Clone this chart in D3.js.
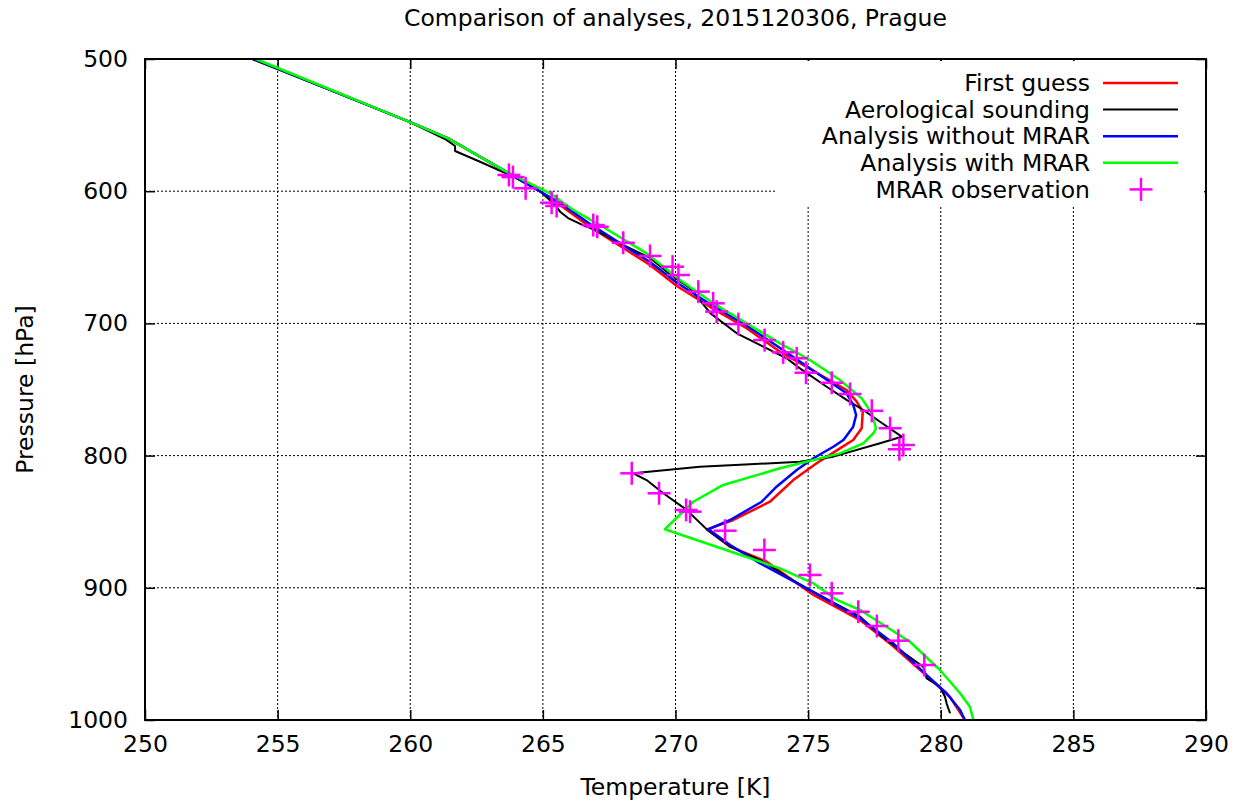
<!DOCTYPE html>
<html>
<head>
<meta charset="utf-8">
<script src="https://cdn.jsdelivr.net/npm/d3@7"></script>
<style>
  body { margin: 0; background: #fff; }
  text { font-family: "DejaVu Sans", sans-serif; fill: #000; }
</style>
</head>
<body>
<svg id="chart"></svg>
<script>
// ---- data (temperature K, pressure hPa) ----
const tempTicks = [250, 255, 260, 265, 270, 275, 280, 285, 290];
const pressureTicks = [500, 600, 700, 800, 900, 1000];

const firstGuess = [
  [254.11, 500], [259.95, 547.4], [261.43, 560], [263.51, 584], [264.93, 600.6],
  [265.65, 610.4], [266.78, 627.1], [268.03, 643], [269.04, 655.8], [270.05, 671.7],
  [271.43, 689.1], [272.68, 703.7], [273.94, 721.4], [276.45, 750.4], [276.83, 759.2],
  [277.06, 766.8], [277.02, 779.3], [276.7, 788.2], [276.2, 794.5], [275.32, 805.8],
  [274.44, 818.5], [273.56, 834.9], [272.18, 848.7], [271.18, 855.8], [272.06, 868.9],
  [273.44, 880.3], [275.2, 905.4], [276.96, 924.4], [278.2, 944.1], [279.48, 966.8],
  [280.35, 982.6], [280.91, 1000]
];

const sounding = [
  [254.03, 500], [254.94, 507.3], [259.95, 547.4], [261.31, 560.5], [261.69, 565.8],
  [261.69, 569.6], [262.63, 577.7], [263.84, 588.5], [264.93, 600.6], [265.46, 610.4],
  [265.65, 615.5], [265.95, 620.3], [266.51, 625.6], [266.96, 629.3], [268.02, 640.7],
  [269.04, 650.5], [269.87, 664.1], [270.55, 673.4], [271.32, 692.4], [272.31, 707.5],
  [273.31, 717.6], [274.19, 726.4], [274.69, 734], [275.7, 747.9], [276.45, 757.9],
  [277.08, 765.5], [277.71, 774.4], [278.53, 785.7], [277.71, 790.7], [275.95, 800.8],
  [274.69, 804.6], [272.81, 806.6], [270.92, 808.4], [268.41, 813.4], [268.91, 818.5],
  [269.54, 828.5], [270.42, 841.1], [271.18, 855.8], [272.06, 868.9], [273.31, 880.3],
  [274.19, 891.6], [275.07, 901.7], [276.96, 921.9], [277.71, 935.7], [278.46, 947.1],
  [279.34, 959.7], [279.47, 968.5], [279.97, 974.8], [280.16, 982.4], [280.22, 987.4],
  [280.35, 994.9]
];

const analysisNoMrar = [
  [254.11, 500], [259.95, 547.4], [261.43, 560], [263.51, 584], [264.93, 600.6],
  [265.65, 609], [266.78, 624.8], [268.02, 640.7], [269.04, 653.6], [270.07, 669.4],
  [271.41, 686.8], [272.7, 702], [273.94, 718.6], [276.45, 752.9], [276.7, 761.7],
  [276.81, 769.3], [276.7, 778.1], [276.33, 788.2], [275.95, 793.3], [275.2, 802],
  [274.57, 810.9], [273.81, 823.5], [273.25, 834.9], [272.06, 848.7], [271.24, 855.8],
  [272.06, 867.6], [273.19, 881.5], [275.07, 901.7], [276.96, 923.1], [278.21, 942],
  [279.47, 966], [280.22, 979.8], [280.73, 992.4], [280.91, 1000]
];

const analysisMrar = [
  [254.18, 500], [259.95, 547.4], [261.43, 560], [263.51, 584], [265.27, 601.6],
  [266.15, 614.2], [267.15, 625.6], [268.91, 647], [270.17, 667.2], [271.43, 684.8],
  [272.68, 699.9], [273.94, 715.1], [275.07, 727.7], [276.2, 742.8], [277.02, 756.7],
  [277.4, 768], [277.56, 779.4], [277.46, 783.1], [277.08, 790.7], [276.2, 798.3],
  [275.2, 803.3], [273.94, 809.6], [271.8, 822.2], [270.67, 834.9], [269.6, 855.7],
  [273.94, 885.3], [275.2, 896.6], [276.08, 909.2], [276.96, 916.8], [278.84, 940.8],
  [279.97, 962.2], [280.73, 979.8], [281.1, 989.9], [281.23, 1000]
];

const mrarObs = [
  [263.72, 587.7], [263.87, 589.3], [264.35, 597.8], [265.33, 608.7], [265.52, 611.2],
  [266.9, 625.6], [267.05, 626.9], [268.03, 639], [269.04, 649], [269.89, 657.1],
  [270.11, 663.4], [270.86, 676], [271.42, 684.8], [271.55, 691.1], [272.37, 700.5],
  [273.36, 712.6], [274.06, 721.9], [274.57, 726.4], [274.92, 737.3], [275.89, 744.9],
  [276.58, 753.4], [277.4, 766.1], [278.09, 779.3], [278.44, 795.2], [278.59, 792],
  [268.35, 813.4], [269.38, 828.5], [270.4, 841.1], [270.55, 842.4], [271.87, 856.8],
  [273.35, 871.4], [275.07, 890.3], [275.89, 904.2], [276.89, 918.1], [277.59, 928.9],
  [278.4, 940], [279.38, 958.4]
];

const seriesNames = ["First guess", "Aerological sounding", "Analysis without MRAR", "Analysis with MRAR", "MRAR observation"];
const seriesColors = ["#ff0000", "#000000", "#0000ff", "#00ff00", "#ff00ff"];

// ---- layout ----
const W = 1237, H = 801;
const margin = { top: 59, right: 31, bottom: 81, left: 145 };
const width = W - margin.left - margin.right;
const height = H - margin.top - margin.bottom;
const fs = "23.5px";

const svg = d3.select("#chart").attr("width", W).attr("height", H);
const g = svg.append("g").attr("transform", "translate(" + margin.left + "," + margin.top + ")");

const x = d3.scaleLinear().domain([250, 290]).range([0, width]);
const y = d3.scaleLinear().domain([500, 1000]).range([0, height]);

// grid
g.append("g").selectAll("line").data(tempTicks.slice(1, -1)).join("line")
  .attr("x1", d => x(d)).attr("x2", d => x(d)).attr("y1", 0).attr("y2", height)
  .attr("stroke", "#000").attr("stroke-width", 1).attr("stroke-dasharray", "2,2");
g.append("g").selectAll("line").data(pressureTicks.slice(1, -1)).join("line")
  .attr("x1", 0).attr("x2", width).attr("y1", d => y(d)).attr("y2", d => y(d))
  .attr("stroke", "#000").attr("stroke-width", 1).attr("stroke-dasharray", "2,2");

// axes (ticks point inwards, mirrored on top/right)
const tk = 10;
const xb = g.append("g").attr("transform", "translate(0," + height + ")")
  .call(d3.axisBottom(x).tickValues(tempTicks).tickFormat(d3.format("d")).tickSizeInner(-tk).tickSizeOuter(0).tickPadding(18));
const yl = g.append("g")
  .call(d3.axisLeft(y).tickValues(pressureTicks).tickFormat(d3.format("d")).tickSizeInner(-tk).tickSizeOuter(0).tickPadding(17));
const xt = g.append("g").call(d3.axisTop(x).tickValues(tempTicks).tickSizeInner(-tk).tickSizeOuter(0).tickFormat(""));
const yr = g.append("g").attr("transform", "translate(" + width + ",0)")
  .call(d3.axisRight(y).tickValues(pressureTicks).tickSizeInner(-tk).tickSizeOuter(0).tickFormat(""));
[xb, yl, xt, yr].forEach(a => {
  a.select(".domain").remove();
  a.selectAll(".tick line").attr("stroke", "#000").attr("stroke-width", 1.5);
  a.selectAll("text").style("font-size", fs).style("font-family", "DejaVu Sans");
});
xb.selectAll("text").attr("dy", "0.6em");

// legend background (opaque key)
g.append("rect").attr("x", 630).attr("y", 2).attr("width", width - 632).attr("height", 145)
  .attr("fill", "#fff");

// lines
const line = d3.line().x(d => x(d[0])).y(d => y(d[1]));
const lines = [
  { data: firstGuess, color: seriesColors[0], w: 2.5 },
  { data: sounding, color: seriesColors[1], w: 2 },
  { data: analysisNoMrar, color: seriesColors[2], w: 2.5 },
  { data: analysisMrar, color: seriesColors[3], w: 2.5 }
];
g.selectAll(".series").data(lines).join("path")
  .attr("class", "series")
  .attr("d", d => line(d.data))
  .attr("fill", "none")
  .attr("stroke", d => d.color)
  .attr("stroke-width", d => d.w)
  .attr("stroke-linejoin", "round");

// MRAR observations as plus marks
const ps = 11.5;
const obs = g.append("g").selectAll("g").data(mrarObs).join("g")
  .attr("transform", d => "translate(" + x(d[0]) + "," + y(d[1]) + ")");
obs.append("line").attr("x1", -ps).attr("x2", ps).attr("stroke", seriesColors[4]).attr("stroke-width", 2.5);
obs.append("line").attr("y1", -ps).attr("y2", ps).attr("stroke", seriesColors[4]).attr("stroke-width", 2.5);

// frame
g.append("rect").attr("width", width).attr("height", height)
  .attr("fill", "none").attr("stroke", "#000").attr("stroke-width", 2);

// legend
const leg = g.append("g");
seriesNames.forEach((name, i) => {
  const ly = 24 + i * 26.6;
  leg.append("text").attr("x", 945).attr("y", ly).attr("dy", "0.35em")
    .attr("text-anchor", "end").style("font-size", fs).text(name);
  if (i < 4) {
    leg.append("line").attr("x1", 958).attr("x2", 1033).attr("y1", ly).attr("y2", ly)
      .attr("stroke", seriesColors[i]).attr("stroke-width", lines[i].w);
  } else {
    leg.append("line").attr("x1", 996 - ps).attr("x2", 996 + ps).attr("y1", ly).attr("y2", ly)
      .attr("stroke", seriesColors[4]).attr("stroke-width", 2.5);
    leg.append("line").attr("x1", 996).attr("x2", 996).attr("y1", ly - ps).attr("y2", ly + ps)
      .attr("stroke", seriesColors[4]).attr("stroke-width", 2.5);
  }
});

// title and axis labels
svg.append("text").attr("x", margin.left + width / 2).attr("y", 18).attr("dy", "0.35em")
  .attr("text-anchor", "middle").style("font-size", fs)
  .text("Comparison of analyses, 2015120306, Prague");
svg.append("text").attr("x", margin.left + width / 2).attr("y", 787).attr("dy", "0.35em")
  .attr("text-anchor", "middle").style("font-size", fs).text("Temperature [K]");
svg.append("text").attr("transform", "translate(25," + (margin.top + height / 2) + ") rotate(-90)")
  .attr("dy", "0.35em").attr("text-anchor", "middle").style("font-size", fs).text("Pressure [hPa]");
</script>
</body>
</html>
